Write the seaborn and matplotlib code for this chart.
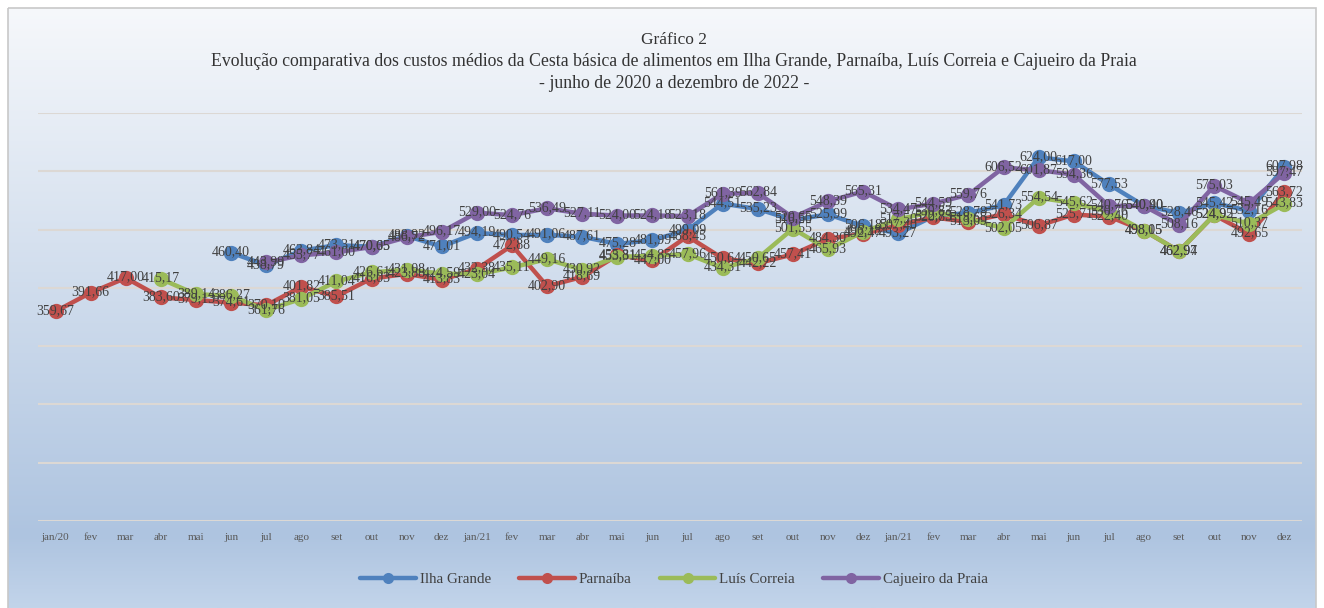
import numpy as np
import pandas as pd
import matplotlib
matplotlib.use("Agg")
import matplotlib.pyplot as plt
import seaborn as sns
from matplotlib.lines import Line2D
from matplotlib.patches import Rectangle

meses = ["jan/20", "fev", "mar", "abr", "mai", "jun", "jul", "ago", "set", "out", "nov", "dez",
         "jan/21", "fev", "mar", "abr", "mai", "jun", "jul", "ago", "set", "out", "nov", "dez",
         "jan/21", "fev", "mar", "abr", "mai", "jun", "jul", "ago", "set", "out", "nov", "dez"]

N = None
ilha_grande = [N, N, N, N, N, 460.40, 438.79, 463.84, 473.31, 470.65, 488.92, 471.01,
               494.19, 490.54, 491.06, 487.61, 475.28, 481.99, 499.09, 544.51, 535.23, 516.50, 525.99, 506.18,
               493.27, 522.75, 528.78, 541.73, 624.00, 617.00, 577.53, 540.90, 528.46, 545.42, 532.16, 607.98]
parnaiba = [359.67, 391.66, 417.00, 383.60, 379.13, 374.61, 370.10, 401.82, 385.51, 416.03, 423.88, 413.83,
            432.38, 472.88, 402.90, 418.69, 455.81, 447.00, 488.45, 450.64, 442.22, 457.41, 484.30, 492.47,
            507.40, 520.83, 513.09, 526.34, 506.87, 525.71, 522.40, 498.15, 462.97, 524.92, 492.65, 563.72]
luis_correia = [N, N, N, 415.17, 389.14, 386.27, 361.76, 381.05, 411.04, 426.61, 431.08, 424.59,
                423.04, 435.11, 449.16, 430.92, 453.31, 454.85, 457.96, 434.31, 450.65, 501.55, 465.93, 496.18,
                517.50, 530.83, 518.65, 502.05, 554.54, 545.62, 530.76, 498.05, 462.94, 524.95, 510.37, 543.83]
cajueiro = [N, N, N, N, N, N, 443.99, 455.77, 461.00, 470.05, 486.72, 496.17,
            529.00, 524.76, 536.49, 527.11, 524.00, 524.18, 523.18, 561.39, 562.84, 520.65, 548.39, 565.31,
            534.47, 544.59, 559.76, 606.52, 601.87, 594.36, 540.76, 540.40, 508.16, 575.03, 545.49, 597.47]

series_names = ["Ilha Grande", "Parnaíba", "Luís Correia", "Cajueiro da Praia"]
series_values = [ilha_grande, parnaiba, luis_correia, cajueiro]
colors = ["#4F81BD", "#C0504D", "#9BBB59", "#8064A2"]

rows = []
for name, vals in zip(series_names, series_values):
    for i, v in enumerate(vals):
        if v is not None:
            rows.append({"mes": i, "valor": v, "serie": name})
df = pd.DataFrame(rows)

sns.set_theme(style="white")
plt.rcParams["font.family"] = ["Liberation Serif", "DejaVu Serif"]

W, H = 1324, 608
fig = plt.figure(figsize=(W / 100, H / 100), dpi=100)

# background gradient
bg = fig.add_axes([0, 0, 1, 1], zorder=-10)
bg.set_xlim(0, W)
bg.set_ylim(H, 0)
bg.set_axis_off()
yy = np.linspace(0, 1, 300)
top = np.array([246, 248, 251]) / 255
mid = np.array([174, 196, 224]) / 255
bot = np.array([194, 212, 234]) / 255
t_mid = 0.88
cols = np.where(yy[:, None] < t_mid,
                top + (mid - top) * (yy[:, None] / t_mid),
                mid + (bot - mid) * ((yy[:, None] - t_mid) / (1 - t_mid)))
grad = np.repeat(cols[:, None, :], 2, axis=1)
bg.imshow(grad, extent=[8, 1316, H, 8], aspect="auto", interpolation="bilinear")
bg.add_patch(Rectangle((8, 8), 1308, H, fill=False, edgecolor="#c8c8c8", lw=1.2))

ax = fig.add_axes([38 / W, 1 - 521 / H, 1264 / W, 408 / H])
ax.patch.set_alpha(0)

sns.lineplot(data=df, x="mes", y="valor", hue="serie", hue_order=series_names,
             palette=colors, marker="o", markersize=11, markeredgewidth=0,
             linewidth=3.2, legend=False, ax=ax, errorbar=None)

for _, r in df.iterrows():
    ax.text(r["mes"], r["valor"] + 1.5, f"{r['valor']:.2f}".replace(".", ","),
            ha="center", va="center", fontsize=10, color="#404040", zorder=5)

ax.set_xlim(-0.5, 35.5)
ax.set_ylim(0, 700)
ax.set_yticks(range(0, 701, 100))
ax.set_yticklabels([])
ax.yaxis.grid(True, color="#dcd8d4", lw=1.5)
ax.xaxis.grid(False)
ax.set_axisbelow(True)
ax.set_xticks(range(len(meses)))
ax.set_xticklabels(meses, fontsize=8, color="#595959")
ax.tick_params(axis="both", length=0)
ax.tick_params(axis="x", pad=9)
ax.set_xlabel("")
ax.set_ylabel("")
for s in ax.spines.values():
    s.set_visible(False)

fig.text(674 / W, 1 - 40 / H, "Gráfico 2", ha="center", va="center", fontsize=12.5, color="#333333")
fig.text(674 / W, 1 - 62 / H,
         "Evolução comparativa dos custos médios da Cesta básica de alimentos em Ilha Grande, Parnaíba, Luís Correia e Cajueiro da Praia",
         ha="center", va="center", fontsize=12.8, color="#333333")
fig.text(674 / W, 1 - 83 / H, "- junho de 2020 a dezembro de 2022 -",
         ha="center", va="center", fontsize=12.8, color="#333333")

handles = [Line2D([0], [0], color=c, lw=3.2, marker="o", markersize=8, markeredgewidth=0) for c in colors]
fig.legend(handles, series_names, loc="center", bbox_to_anchor=(674 / W, 1 - 579 / H),
           ncol=4, frameon=False, fontsize=10.8, handlelength=3.7, handletextpad=0.25,
           columnspacing=1.9, labelcolor="#404040")

fig.savefig("out.png", dpi=100)
